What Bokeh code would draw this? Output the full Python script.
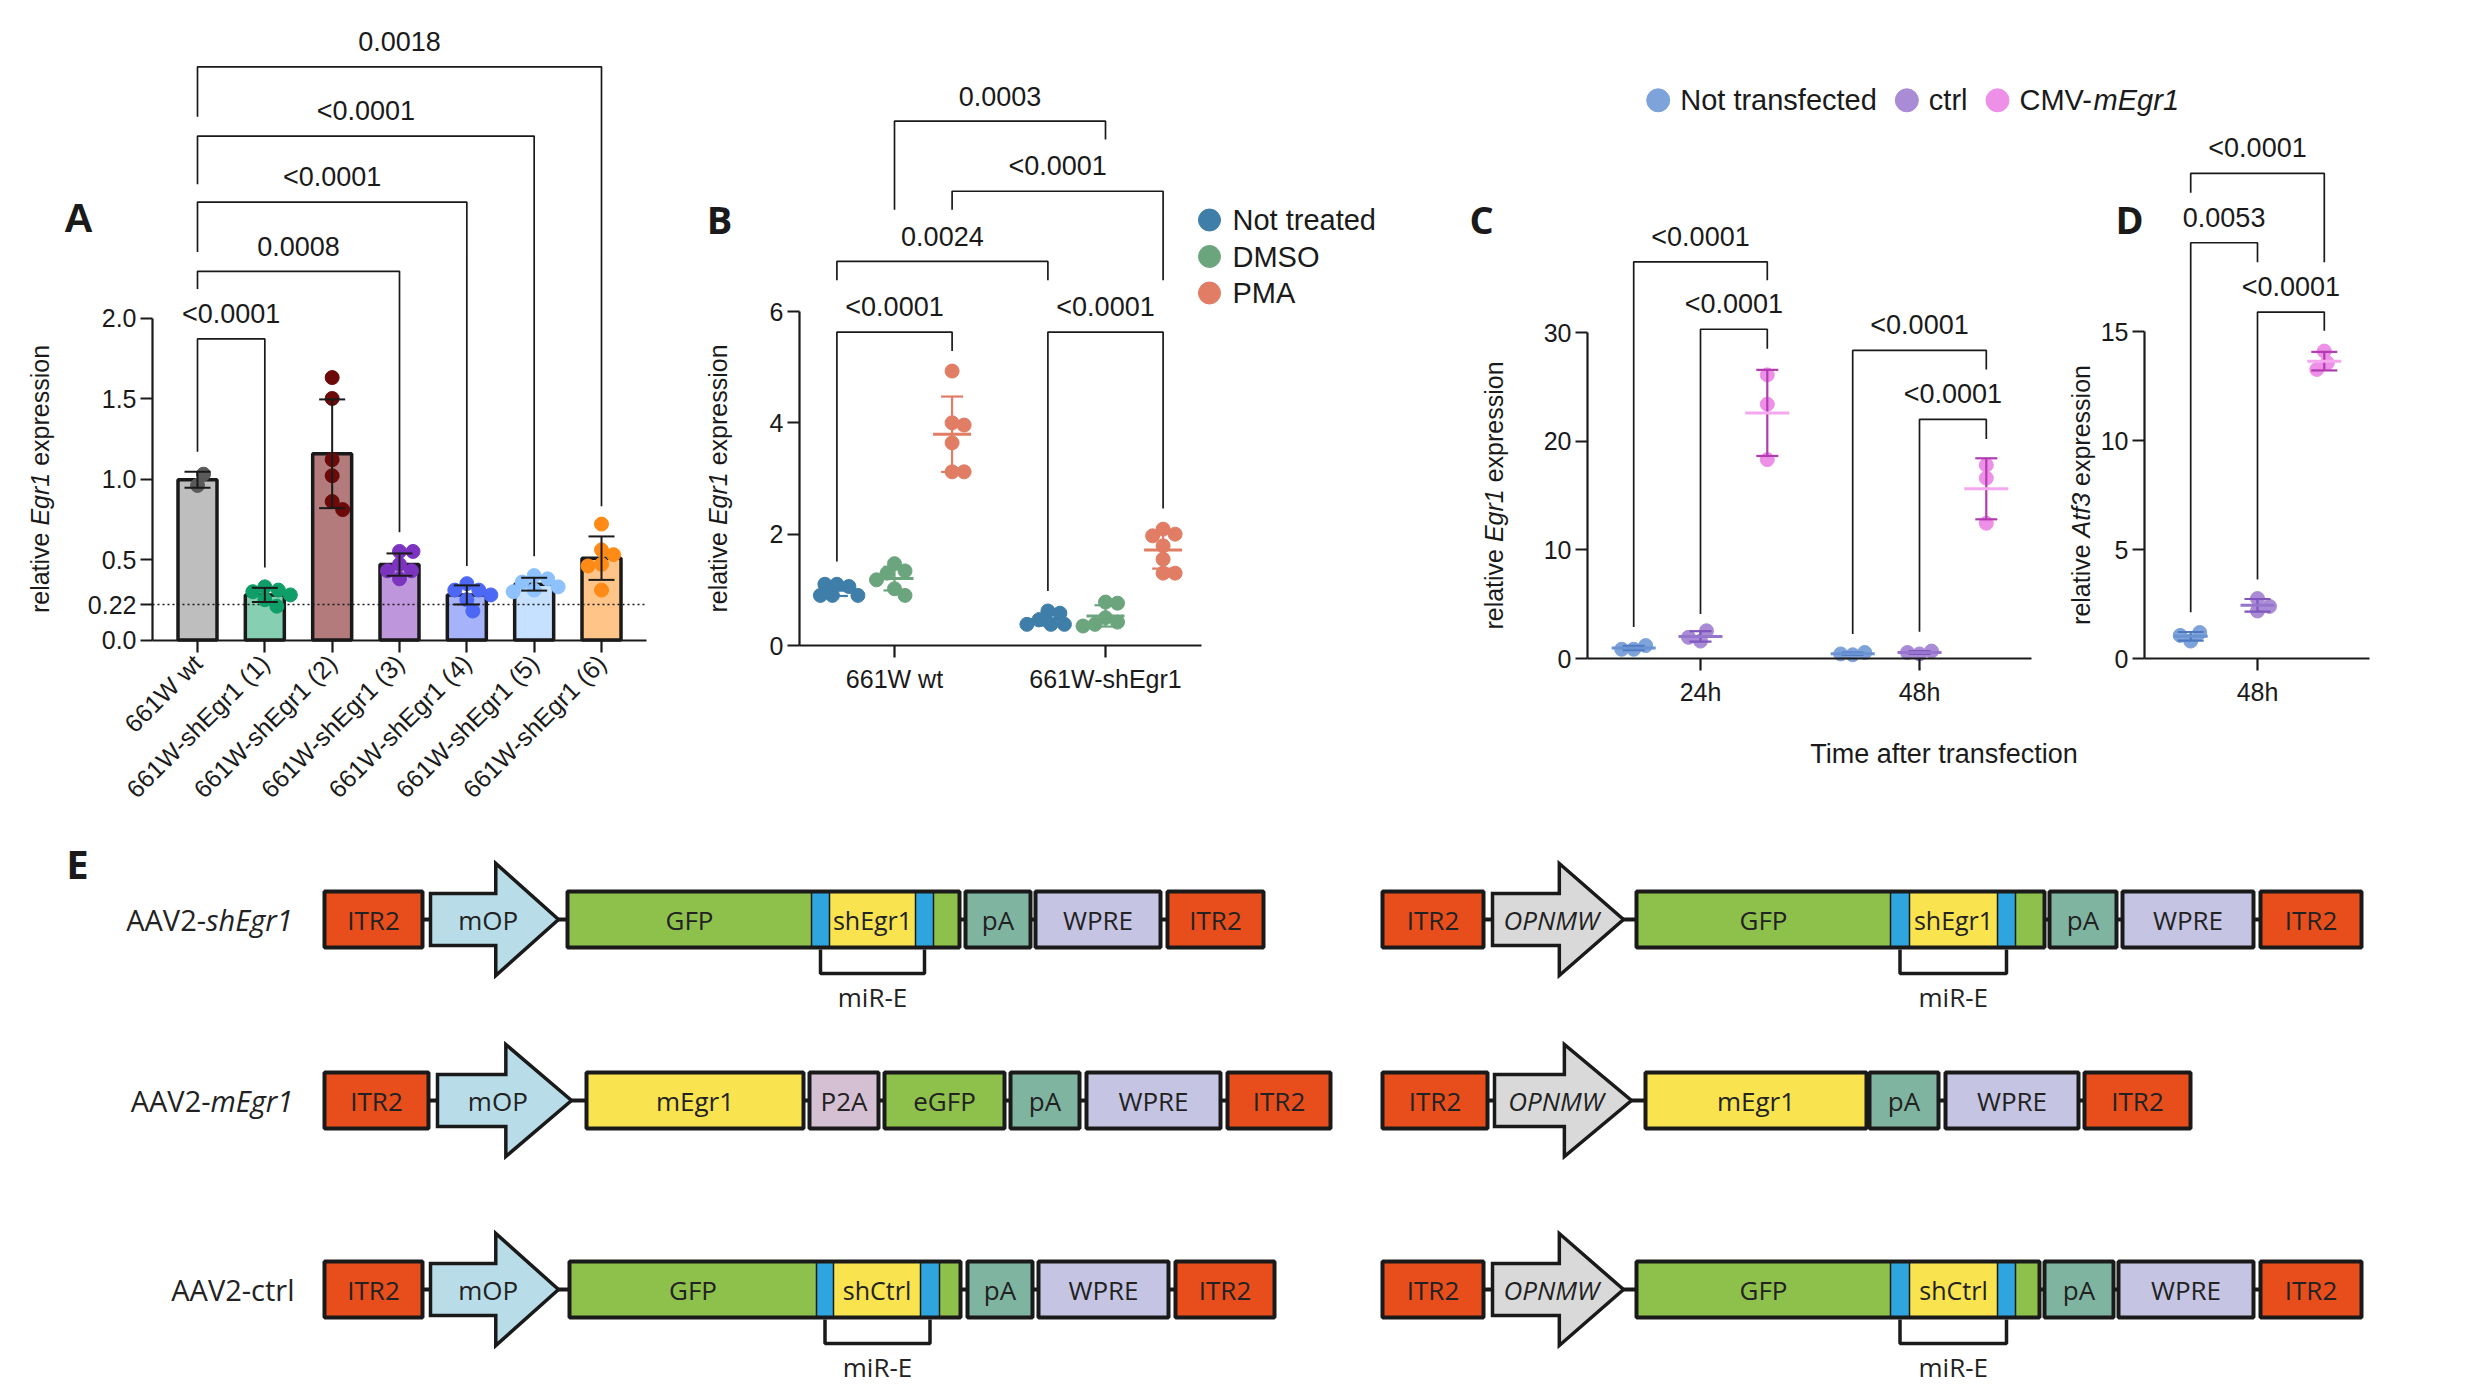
import math
import numpy as np
from bokeh.plotting import figure
from bokeh.models import Range1d, FixedTicker
from bokeh.layouts import row, column
from bokeh.embed import file_html
from bokeh.resources import INLINE
from bokeh.core.properties import value

FONT = "Liberation Sans"
EFONT = "Open Sans"
INK = "#1a1a1a"

# ---------------- Panel A data ----------------
A_categories = ["661W wt", "661W-shEgr1 (1)", "661W-shEgr1 (2)", "661W-shEgr1 (3)",
                "661W-shEgr1 (4)", "661W-shEgr1 (5)", "661W-shEgr1 (6)"]
A_wt = [0.96, 1.03]
A_sh1 = [0.33, 0.31, 0.30, 0.28, 0.25, 0.21]
A_sh2 = [1.63, 1.50, 1.12, 1.02, 0.86, 0.81]
A_sh3 = [0.55, 0.55, 0.47, 0.43, 0.43, 0.38]
A_sh4 = [0.35, 0.31, 0.31, 0.28, 0.25, 0.18]
A_sh5 = [0.40, 0.38, 0.36, 0.33, 0.31, 0.30]
A_sh6 = [0.72, 0.56, 0.53, 0.47, 0.46, 0.31]
A_bar_colors = ["#BEBEBE", "#86CFB2", "#B37B7B", "#BE96DC", "#A6B3FA", "#C6E0FF", "#FFC487"]
A_dot_colors = ["#5A5A5A", "#0F9E68", "#6C0A0A", "#7C34C0", "#4C68F5", "#8DC2FF", "#FF8B16"]
A_yticks = [0.0, 0.22, 0.5, 1.0, 1.5, 2.0]
A_ytick_labels = ["0.0", "0.22", "0.5", "1.0", "1.5", "2.0"]
A_reference_level = 0.22
A_br_from = [0, 0, 0, 0, 0]
A_br_to = [1, 3, 4, 5, 6]
A_br_top = [1.87, 2.29, 2.72, 3.13, 3.56]
A_br_left_end = [1.17, 2.18, 2.41, 2.83, 3.25]
A_br_right_end = [0.45, 0.67, 0.46, 0.52, 0.83]
A_br_p = ["<0.0001", "0.0008", "<0.0001", "<0.0001", "0.0018"]

# ---------------- Panel B data ----------------
B_groups = ["661W wt", "661W-shEgr1"]
B_treatments = ["Not treated", "DMSO", "PMA"]
B_colors = ["#3F7EA8", "#6BA57E", "#E17C65"]
B_not_treated = [[1.10, 1.06, 1.10, 0.90, 0.90, 0.90], [0.62, 0.58, 0.46, 0.38, 0.38, 0.38]]
B_dmso = [[1.47, 1.34, 1.30, 1.18, 1.02, 0.90], [0.78, 0.76, 0.50, 0.42, 0.38, 0.35]]
B_pma = [[4.93, 4.00, 3.96, 3.64, 3.12, 3.12], [2.09, 2.00, 1.97, 1.79, 1.55, 1.30, 1.30]]
B_yticks = [0, 2, 4, 6]
B_br_from = [(0, 0), (1, 0), (0, 0), (0, 2), (0, 1)]
B_br_to = [(0, 2), (1, 2), (1, 0), (1, 2), (1, 1)]
B_br_top = [5.63, 5.63, 6.90, 8.16, 9.42]
B_br_left_end = [1.51, 0.98, 6.56, 7.83, 7.83]
B_br_right_end = [5.29, 2.46, 6.56, 6.56, 9.09]
B_br_p = ["<0.0001", "<0.0001", "0.0024", "<0.0001", "0.0003"]

# ---------------- Panel C / D data ----------------
CD_groups = ["Not transfected", "ctrl", "CMV-mEgr1"]
CD_group_italic = ["", "", "mEgr1"]
CD_colors = ["#7DA3DA", "#A98BD6", "#EE8FE8"]
CD_mean_colors = ["#6A93D2", "#9576CC", "#F3A8EF"]
CD_err_colors = ["#4E78C0", "#7E56BE", "#B23BB0"]
C_times = ["24h", "48h"]
C_not_transfected = [[0.85, 1.19, 0.85], [0.34, 0.55, 0.42]]
C_ctrl = [[1.60, 2.55, 1.95], [0.42, 0.68, 0.55]]
C_cmv = [[26.1, 23.4, 18.3], [17.8, 16.6, 12.45]]
C_yticks = [0, 10, 20, 30]
C_br_from = [(0, 0), (0, 1), (1, 0), (1, 1)]
C_br_to = [(0, 2), (0, 2), (1, 2), (1, 2)]
C_br_top = [36.5, 30.3, 28.35, 22.0]
C_br_left_end = [2.9, 4.1, 2.25, 2.46]
C_br_right_end = [34.8, 28.5, 26.6, 20.2]
C_br_p = ["<0.0001", "<0.0001", "<0.0001", "<0.0001"]
CD_xlabel = "Time after transfection"

D_times = ["48h"]
D_not_transfected = [[0.80, 1.19, 1.06]]
D_ctrl = [[2.18, 2.75, 2.39]]
D_cmv = [[14.10, 13.56, 13.26]]
D_yticks = [0, 5, 10, 15]
D_br_from = [(0, 0), (0, 0), (0, 1)]
D_br_to = [(0, 2), (0, 1), (0, 2)]
D_br_top = [22.25, 19.07, 15.89]
D_br_left_end = [21.36, 2.12, 3.62]
D_br_right_end = [18.18, 18.18, 15.04]
D_br_p = ["<0.0001", "0.0053", "<0.0001"]

# ---------------- Panel E data (vector maps) ----------------
E_row_prefix = ["AAV2-", "AAV2-", "AAV2-ctrl"]
E_row_italic = ["shEgr1", "mEgr1", ""]
E_left_parts = [["ITR2", "mOP", "GFP:shEgr1", "pA", "WPRE", "ITR2"],
                ["ITR2", "mOP", "mEgr1", "P2A", "eGFP", "pA", "WPRE", "ITR2"],
                ["ITR2", "mOP", "GFP:shCtrl", "pA", "WPRE", "ITR2"]]
E_left_widths = [[98, 128, 392, 65, 125, 96],
                 [104, 134, 217, 69, 120, 69, 134, 103],
                 [98, 128, 391, 65, 130, 99]]
E_left_gaps = [[8, 9, 6, 5, 7], [9, 15, 6, 6, 6, 7, 7], [8, 11, 7, 6, 7]]
E_left_cassette = [[244, 18, 86, 18, 26], None, [247, 17, 87, 19, 21]]
E_right_parts = [["ITR2", "OPNMW", "GFP:shEgr1", "pA", "WPRE", "ITR2"],
                 ["ITR2", "OPNMW", "mEgr1", "pA", "WPRE", "ITR2"],
                 ["ITR2", "OPNMW", "GFP:shCtrl", "pA", "WPRE", "ITR2"]]
E_right_widths = [[101, 131, 408, 67, 131, 101],
                  [105, 137, 221, 69, 133, 106],
                  [101, 131, 403, 69, 135, 101]]
E_right_gaps = [[9, 13, 5, 6, 7], [7, 14, 3, 7, 6], [9, 13, 5, 5, 7]]
E_right_cassette = [[254, 19, 88, 18, 29], None, [254, 19, 88, 18, 24]]
E_colors = {"ITR2": "#E84E1B", "mOP": "#B8DDE9", "OPNMW": "#D9D9D9", "GFP": "#8EC04C",
            "eGFP": "#8EC04C", "mEgr1": "#F9E44F", "P2A": "#D5BFD3", "pA": "#7FB5A0",
            "WPRE": "#C5C4E3", "miR": "#2EA5DF", "shEgr1": "#F9E44F", "shCtrl": "#F9E44F"}

# ---------------- helpers ----------------
ARIAL = {' ': 278, 'a': 556, 'b': 556, 'c': 500, 'd': 556, 'e': 556, 'f': 278, 'g': 556,
         'h': 556, 'i': 222, 'l': 222, 'm': 833, 'n': 556, 'o': 556, 'p': 556, 'r': 333,
         's': 500, 't': 278, 'v': 500, 'w': 722, 'x': 500, 'A': 667, 'C': 722, 'D': 722,
         'E': 667, 'M': 833, 'N': 722, 'O': 778, 'S': 667, 'T': 611, 'V': 667, 'W': 944,
         '-': 333, '.': 278, '<': 584}
OPENS = {'A': 633, 'V': 598, '2': 572, '-': 322, 's': 479, 'h': 613, 'E': 556, 'g': 549,
         'r': 408, '1': 572, 'm': 930, 'c': 480, 't': 361, 'l': 275}


def aw(s, size):
    return sum(ARIAL.get(c, 556) for c in s) / 1000.0 * size


def ow(s, size, italic=False):
    return sum(OPENS.get(c, 560) for c in s) / 1000.0 * size * (0.96 if italic else 1.0)


class Geo:
    """Maps page pixels to data units for one panel; the frame fills the whole figure."""

    def __init__(self, box, axis_sx, x_end_sx, xmap, ymap):
        self.ox, self.oy, self.w, self.h = box
        self.axis_sx, self.x_end_sx = axis_sx, x_end_sx
        (xa, pxa), (xb, pxb) = xmap
        (ya, pya), (yb, pyb) = ymap
        self.kx = (pxb - pxa) / (xb - xa)
        self.ky = (pya - pyb) / (yb - ya)
        self.xa, self.pxa, self.ya, self.pya = xa, pxa, ya, pya

    def dx(self, sx):
        return self.xa + (sx - self.pxa) / self.kx

    def dy(self, sy):
        return self.ya + (self.pya - sy) / self.ky

    def fig(self):
        p = figure(width=self.w, height=self.h,
                   x_range=Range1d(self.dx(self.ox), self.dx(self.ox + self.w)),
                   y_range=Range1d(self.dy(self.oy + self.h), self.dy(self.oy)),
                   min_border=0, output_backend="svg", toolbar_location=None,
                   title_location=None)
        p.grid.visible = False
        p.outline_line_color = None
        return p


def plain_fig(w, h):
    p = figure(width=w, height=h, x_range=Range1d(0, w), y_range=Range1d(h, 0),
               min_border=0, output_backend="svg", toolbar_location=None,
               title_location=None, x_axis_location=None, y_axis_location=None)
    p.grid.visible = False
    p.outline_line_color = None
    return p


def style_axes(p, geo, xticks, xlabels, yticks, ylabels, xsize, ysize, orient=None):
    xa = p.xaxis[0]
    ya = p.yaxis[0]
    xa.fixed_location = 0
    xa.bounds = (geo.dx(geo.axis_sx), geo.dx(geo.x_end_sx))
    xa.ticker = FixedTicker(ticks=[float(t) for t in xticks])
    xa.major_label_overrides = {float(t): s for t, s in zip(xticks, xlabels)}
    if orient is not None:
        xa.major_label_orientation = orient
    ya.fixed_location = geo.dx(geo.axis_sx)
    ya.bounds = (0, max(yticks))
    ya.ticker = FixedTicker(ticks=[float(t) for t in yticks])
    ya.major_label_overrides = {float(t): s for t, s in zip(yticks, ylabels)}
    for ax, size in ((xa, xsize), (ya, ysize)):
        ax.axis_line_color = INK
        ax.axis_line_width = 2.2
        ax.major_tick_line_color = INK
        ax.major_tick_line_width = 2.2
        ax.major_tick_out = 12
        ax.major_tick_in = 0
        ax.minor_tick_line_color = None
        ax.major_label_text_font = FONT
        ax.major_label_text_font_size = size
        ax.major_label_text_color = INK
    xa.major_label_standoff = 7
    ya.major_label_standoff = 4


def add_ylabel(p, geo, sx, ymid, parts, size=25):
    sp = aw(" ", size)
    ws = [aw(t, size) for t, _ in parts]
    total = sum(ws) + sp * (len(parts) - 1)
    pos = -total / 2.0
    for (t, style), w in zip(parts, ws):
        p.text(x=[geo.dx(sx)], y=[ymid + pos / geo.ky], text=[t], angle=math.pi / 2,
               text_align="left", text_baseline="middle", text_font=value(FONT),
               text_font_size=f"{size}px", text_font_style=style, text_color=INK)
        pos += w + sp


def add_letter(p, geo, sx, sy, letter, font, size):
    p.text(x=[geo.dx(sx)], y=[geo.dy(sy)], text=[letter], text_align="center",
           text_baseline="middle", text_font=value(font), text_font_size=size,
           text_font_style="bold", text_color=INK)


def swarm(vals, kx, ky, diam=15.0, step=1.5):
    placed, out = [], []
    for v in vals:
        sy = v * ky
        cands = [0.0]
        for i in range(1, 80):
            cands += [i * step, -i * step]
        chosen = 0.0
        for c in cands:
            if all((c - px) ** 2 + (sy - py) ** 2 >= (0.85 * diam) ** 2 for px, py in placed):
                chosen = c
                break
        placed.append((chosen, sy))
        out.append(chosen / kx)
    return out


def draw_brackets(p, geo, x1s, x2s, tops, lefts, rights, texts):
    xs = [[a, a, b, b] for a, b in zip(x1s, x2s)]
    ys = [[l, t, t, r] for l, t, r in zip(lefts, tops, rights)]
    p.multi_line(xs, ys, line_color=INK, line_width=1.7)
    p.text(x=[(a + b) / 2 for a, b in zip(x1s, x2s)], y=[t + 25 / geo.ky for t in tops],
           text=texts, text_align="center", text_baseline="middle",
           text_font=value(FONT), text_font_size="27px", text_color=INK)


def mean_sd(p, geo, x, vals, mcol, ecol, mhalf, chalf, lw=2.2):
    m = float(np.mean(vals))
    s = float(np.std(vals, ddof=1))
    cx = chalf / geo.kx
    p.segment([x, x - cx, x - cx], [m - s, m + s, m - s], [x, x + cx, x + cx], [m + s, m + s, m - s],
              line_color=ecol, line_width=lw)
    if mhalf > 0:
        hx = mhalf / geo.kx
        p.segment([x - hx], [m], [x + hx], [m], line_color=mcol, line_width=3)


def scatter_panel(p, geo, ngroups, offsets, series, colors, mcols, ecols, mhalf, chalf, size):
    for gi in range(ngroups):
        for ti, ser in enumerate(series):
            vals = ser[gi]
            x = gi + offsets[ti]
            offs = swarm(vals, geo.kx, geo.ky, diam=size)
            p.scatter([x + o for o in offs], vals, size=size, fill_color=colors[ti],
                      line_color=colors[ti])
    for gi in range(ngroups):
        for ti, ser in enumerate(series):
            mean_sd(p, geo, gi + offsets[ti], ser[gi], mcols[ti], ecols[ti], mhalf, chalf)


EGR1_LABEL = [("relative", "normal"), ("Egr1", "italic"), ("expression", "normal")]

# ---------------- Panel A ----------------
gA = Geo((0, 0, 660, 818), 152, 646, ((0, 197), (6, 601)), ((0, 639.5), (2, 317.5)))
pA = gA.fig()
A_all = [A_wt, A_sh1, A_sh2, A_sh3, A_sh4, A_sh5, A_sh6]
A_x = list(range(len(A_categories)))
A_means = [float(np.mean(v)) for v in A_all]
pA.vbar(x=A_x, top=A_means, bottom=0, width=39 / gA.kx, fill_color=A_bar_colors,
        line_color=INK, line_width=3.5)
pA.line([gA.dx(152), gA.dx(646)], [A_reference_level] * 2, line_dash="2 3",
        line_color=INK, line_width=1.5)
for i, vals in enumerate(A_all):
    offs = swarm(vals, gA.kx, gA.ky, diam=15)
    pA.scatter([i + o for o in offs], vals, size=14, fill_color=A_dot_colors[i],
               line_color=A_dot_colors[i])
for i, vals in enumerate(A_all):
    mean_sd(pA, gA, i, vals, INK, INK, 0, 13, lw=2)
draw_brackets(pA, gA, A_br_from, A_br_to, A_br_top, A_br_left_end, A_br_right_end, A_br_p)
style_axes(pA, gA, A_x, A_categories, A_yticks, A_ytick_labels, "25px", "25px",
           orient=math.pi / 4)
add_ylabel(pA, gA, 39, 1.0, EGR1_LABEL)
add_letter(pA, gA, 78, 217, "A", FONT, "41px")

# ---------------- Panel B ----------------
gB = Geo((660, 0, 735, 818), 799, 1201, ((0, 894), (1, 1105)), ((0, 645), (6, 311)))
pB = gB.fig()
B_offsets = [-0.273, 0.0, 0.273]
scatter_panel(pB, gB, len(B_groups), B_offsets, [B_not_treated, B_dmso, B_pma],
              B_colors, B_colors, B_colors, 19, 11, 14)
draw_brackets(pB, gB, [g + B_offsets[t] for g, t in B_br_from], [g + B_offsets[t] for g, t in B_br_to],
              B_br_top, B_br_left_end, B_br_right_end, B_br_p)
style_axes(pB, gB, list(range(len(B_groups))), B_groups, B_yticks,
           [str(t) for t in B_yticks], "25px", "25px")
add_ylabel(pB, gB, 717, 3.0, EGR1_LABEL)
add_letter(pB, gB, 719, 218, "B", EFONT, "38px")
leg_y = [gB.dy(219.5 + 36.5 * i) for i in range(3)]
pB.scatter([gB.dx(1209)] * 3, leg_y, size=22, fill_color=B_colors, line_color=B_colors)
pB.text([gB.dx(1232)] * 3, leg_y, text=B_treatments, text_align="left", text_baseline="middle",
        text_font=value(FONT), text_font_size="29px", text_color=INK)

# ---------------- Panel C ----------------
CD_offsets = [-0.305, 0.0, 0.305]
gC = Geo((1395, 125, 645, 595), 1587, 2031, ((0, 1700), (1, 1919)), ((0, 658), (30, 332)))
pC = gC.fig()
scatter_panel(pC, gC, len(C_times), CD_offsets, [C_not_transfected, C_ctrl, C_cmv],
              CD_colors, CD_mean_colors, CD_err_colors, 22, 11, 14)
draw_brackets(pC, gC, [g + CD_offsets[t] for g, t in C_br_from], [g + CD_offsets[t] for g, t in C_br_to],
              C_br_top, C_br_left_end, C_br_right_end, C_br_p)
style_axes(pC, gC, list(range(len(C_times))), C_times, C_yticks,
           [str(t) for t in C_yticks], "25px", "25px")
add_ylabel(pC, gC, 1493, 15.0, EGR1_LABEL)
add_letter(pC, gC, 1481, 218, "C", EFONT, "38px")

# ---------------- Panel D ----------------
gD = Geo((2040, 125, 432, 595), 2144, 2369, ((0, 2257), (1, 2476)), ((0, 658), (15, 331)))
pD = gD.fig()
scatter_panel(pD, gD, len(D_times), CD_offsets, [D_not_transfected, D_ctrl, D_cmv],
              CD_colors, CD_mean_colors, CD_err_colors, 17, 13, 14)
draw_brackets(pD, gD, [g + CD_offsets[t] for g, t in D_br_from], [g + CD_offsets[t] for g, t in D_br_to],
              D_br_top, D_br_left_end, D_br_right_end, D_br_p)
style_axes(pD, gD, list(range(len(D_times))), D_times, D_yticks,
           [str(t) for t in D_yticks], "25px", "25px")
add_ylabel(pD, gD, 2080, 7.5, [("relative", "normal"), ("Atf3", "italic"), ("expression", "normal")])
add_letter(pD, gD, 2129, 218, "D", EFONT, "38px")

# ---------------- legend for C/D ----------------
pLeg = plain_fig(1077, 125)
lx = 262.7
leg_y0 = 99.8
for name, ital, col in zip(CD_groups, CD_group_italic, CD_colors):
    pLeg.scatter([lx], [leg_y0], size=23, fill_color=col, line_color=col)
    tx = lx + 22
    plain = name[:len(name) - len(ital)] if ital else name
    pLeg.text([tx], [leg_y0], text=[plain], text_align="left", text_baseline="middle",
              text_font=value(FONT), text_font_size="29px", text_color=INK)
    end = tx + aw(plain, 29)
    if ital:
        pLeg.text([end], [leg_y0], text=[ital], text_align="left", text_baseline="middle",
                  text_font=value(FONT), text_font_size="29px", text_font_style="italic",
                  text_color=INK)
        end += aw(ital, 29)
    lx = end + 30

# ---------------- x label for C/D ----------------
pXl = plain_fig(1077, 98)
pXl.text([548.5], [33], text=[CD_xlabel], text_align="center", text_baseline="middle",
         text_font=value(FONT), text_font_size="27px", text_color=INK)

# ---------------- Panel E ----------------
pE = plain_fig(2472, 566)
E_row_y = [101, 282, 471]
E_left_x0 = 324
E_right_x0 = 1382
E_label_right = 294


def etext(p, x, y, t, size="26px", style="normal", align="center"):
    p.text([x], [y], text=[t], text_align=align, text_baseline="middle", text_font=value(EFONT),
           text_font_size=size, text_font_style=style, text_color="#222222")


def draw_construct(p, x0, yc, parts, widths, gaps, cassette):
    end = x0 + sum(widths) + sum(gaps)
    p.line([x0, end], [yc, yc], line_color=INK, line_width=4)
    x = x0
    for k, (name, w) in enumerate(zip(parts, widths)):
        if name in ("mOP", "OPNMW"):
            xb = x + 0.51 * w
            px = [x, xb, xb, x + w, xb, xb, x]
            py = [yc - 26, yc - 26, yc - 56, yc, yc + 56, yc + 26, yc + 26]
            p.patch(px, py, fill_color=E_colors[name], line_color=INK, line_width=3.5,
                    line_join="miter")
            etext(p, x + 0.45 * w, yc, name, style="italic" if name == "OPNMW" else "normal")
        elif name.startswith("GFP:"):
            sh = name[4:]
            seg_names = ["GFP", "miR", sh, "miR", "GFP"]
            lefts = [x + sum(cassette[:j]) for j in range(5)]
            rights = [l + cw for l, cw in zip(lefts, cassette)]
            p.quad(left=lefts, right=rights, top=[yc - 28] * 5, bottom=[yc + 28] * 5,
                   fill_color=[E_colors[s] for s in seg_names], line_color=None)
            p.segment(rights[:4], [yc - 28] * 4, rights[:4], [yc + 28] * 4, line_color=INK,
                      line_width=1.5)
            p.quad(left=[x], right=[x + w], top=[yc - 28], bottom=[yc + 28], fill_color=None,
                   line_color=INK, line_width=4)
            etext(p, (lefts[0] + rights[0]) / 2, yc, "GFP")
            etext(p, (lefts[2] + rights[2]) / 2, yc, sh, size="25px")
            b1 = (lefts[1] + rights[1]) / 2
            b2 = (lefts[3] + rights[3]) / 2
            p.line([b1, b1, b2, b2], [yc + 30, yc + 54, yc + 54, yc + 30], line_color=INK,
                   line_width=3.5)
            etext(p, (b1 + b2) / 2, yc + 77, "miR-E")
        else:
            p.quad(left=[x], right=[x + w], top=[yc - 28], bottom=[yc + 28],
                   fill_color=E_colors[name], line_color=INK, line_width=4)
            etext(p, x + w / 2, yc, name)
        if k < len(gaps):
            x += w + gaps[k]


for r in range(3):
    yc = E_row_y[r]
    draw_construct(pE, E_left_x0, yc, E_left_parts[r], E_left_widths[r], E_left_gaps[r],
                   E_left_cassette[r])
    draw_construct(pE, E_right_x0, yc, E_right_parts[r], E_right_widths[r], E_right_gaps[r],
                   E_right_cassette[r])
    if E_row_italic[r]:
        split = E_label_right - ow(E_row_italic[r], 29, italic=True)
        etext(pE, split, yc, E_row_prefix[r], size="29px", align="right")
        etext(pE, split, yc, E_row_italic[r], size="29px", style="italic", align="left")
    else:
        etext(pE, E_label_right, yc, E_row_prefix[r], size="29px", align="right")

pE.text([77], [45], text=["E"], text_align="center", text_baseline="middle",
        text_font=value(EFONT), text_font_size="40px", text_font_style="bold", text_color=INK)

# ---------------- layout ----------------
right_block = column(pLeg, row(pC, pD), pXl)
top = row(pA, pB, right_block)
page = column(top, pE)

open("out.html", "w").write(file_html(page, INLINE))
